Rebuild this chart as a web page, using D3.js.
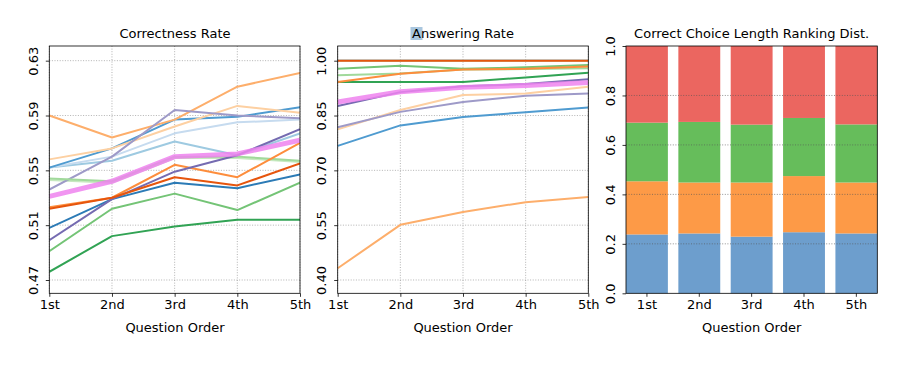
<!DOCTYPE html>
<html>
<head>
<meta charset="utf-8">
<script src="https://cdn.jsdelivr.net/npm/d3@7"></script>
<style>
  body { margin: 0; background: #ffffff; }
  svg { display: block; font-family: "DejaVu Sans", sans-serif; }
</style>
</head>
<body>
<div id="chart"></div>
<script>
// question order categories shared by all three panels
var orders = ["1st", "2nd", "3rd", "4th", "5th"];

// one entry per model: colour, correctness rate and answering rate per question order
var models = ["m01", "m02", "m03", "m04", "m05", "m06", "m07", "m08", "m09", "m10", "m11", "m12", "m13", "m14", "avg"];
var colors = ["#2c7bb6", "#4f9bd0", "#9ecae1", "#c6dbef", "#e6550d", "#fd8d3c", "#fdae6b", "#fdd0a2",
              "#31a354", "#74c476", "#a1d99b", "#c7e9c0", "#756bb1", "#9e9ac8", "#ee82ee"];
var widths = [2, 2, 2, 2, 2, 2, 2, 2, 2, 2, 2, 2, 2, 2, 5];

var correct = [
  [0.508, 0.529, 0.541, 0.537, 0.547],
  [0.552, 0.566, 0.587, 0.589, 0.596],
  [0.552, 0.557, 0.571, 0.561, 0.577],
  [0.552, 0.560, 0.577, 0.585, 0.587],
  [0.522, 0.530, 0.545, 0.539, 0.555],
  [0.523, 0.530, 0.554, 0.545, 0.570],
  [0.590, 0.574, 0.587, 0.611, 0.621],
  [0.558, 0.566, 0.582, 0.597, 0.592],
  [0.476, 0.502, 0.509, 0.514, 0.514],
  [0.491, 0.522, 0.533, 0.521, 0.541],
  [0.544, 0.542, 0.560, 0.560, 0.557],
  [0.543, 0.541, 0.559, 0.559, 0.556],
  [0.499, 0.529, 0.549, 0.561, 0.580],
  [0.536, 0.560, 0.594, 0.590, 0.588],
  [0.531, 0.542, 0.560, 0.562, 0.572]
];

var answer = [
  [1.000, 1.000, 1.000, 1.000, 1.000],
  [0.767, 0.823, 0.846, 0.859, 0.872],
  [1.000, 1.000, 1.000, 1.000, 1.000],
  [1.000, 1.000, 1.000, 1.000, 1.000],
  [1.000, 1.000, 1.000, 1.000, 1.000],
  [0.942, 0.964, 0.976, 0.978, 0.984],
  [0.432, 0.551, 0.586, 0.613, 0.627],
  [0.812, 0.865, 0.906, 0.910, 0.929],
  [0.942, 0.942, 0.942, 0.954, 0.967],
  [0.978, 0.986, 0.978, 0.982, 0.988],
  [0.960, 0.965, 0.976, 0.977, 0.979],
  [1.000, 1.000, 1.000, 1.000, 1.000],
  [0.876, 0.914, 0.930, 0.936, 0.949],
  [0.818, 0.860, 0.887, 0.904, 0.910],
  [0.887, 0.915, 0.927, 0.932, 0.940]
];

// draw order so the overlaps look like the original
var drawOrder = [0, 2, 3, 11, 1, 6, 7, 13, 10, 9, 8, 5, 12, 4, 14];

// correct choice length ranking distribution (stacked shares)
var rankNames = ["rank1", "rank2", "rank3", "rank4"];
var rankColors = ["#6d9ecd", "#fd9a47", "#66bd5b", "#eb6660"];
var rank1 = [0.238, 0.242, 0.229, 0.247, 0.242];
var rank2 = [0.215, 0.206, 0.219, 0.227, 0.206];
var rank3 = [0.237, 0.245, 0.234, 0.235, 0.235];
var rank4 = [0.310, 0.307, 0.318, 0.291, 0.317];

var corrTicks = [0.47, 0.51, 0.55, 0.59, 0.63];
var ansTicks = [0.40, 0.55, 0.70, 0.85, 1.00];
var distTicks = [0.0, 0.2, 0.4, 0.6, 0.8, 1.0];

var W = 924, H = 374;
var plotTop = 46, plotBottom = 293.3;
var FS = 13;

var svg = d3.select("#chart").append("svg")
  .attr("width", W).attr("height", H);

// ### axis helpers
function styleAxis(g) {
  g.attr("font-size", FS).attr("font-family", "DejaVu Sans, sans-serif");
  g.selectAll(".domain").remove();
  g.selectAll(".tick line").attr("stroke", "#000").attr("stroke-width", 0.8);
  g.selectAll(".tick text").attr("fill", "#000");
}

function yAxis(g, x0, y, ticks, fmt) {
  var ax = g.append("g").attr("transform", "translate(" + x0 + ",0)")
    .call(d3.axisLeft(y).tickValues(ticks).tickFormat(fmt).tickSize(3.5).tickPadding(4));
  styleAxis(ax);
  ax.selectAll(".tick text")
    .attr("transform", "rotate(-90)")
    .attr("x", 0).attr("y", -16)
    .attr("dy", "0.35em")
    .attr("text-anchor", "middle");
}

function frame(g, x0, x1) {
  g.append("rect")
    .attr("x", x0).attr("y", plotTop)
    .attr("width", x1 - x0).attr("height", plotBottom - plotTop)
    .attr("fill", "none").attr("stroke", "#000").attr("stroke-width", 0.8);
}

function title(g, cx, txt) {
  g.append("text").attr("x", cx).attr("y", 38)
    .attr("text-anchor", "middle").attr("font-size", FS).text(txt);
}

function xLabel(g, cx) {
  g.append("text").attr("x", cx).attr("y", 332)
    .attr("text-anchor", "middle").attr("font-size", FS).text("Question Order");
}

// ### line panels
function linePanel(x0, x1, values, domain, ticks, fmt, name) {
  var g = svg.append("g");
  var x = d3.scalePoint().domain(orders).range([x0, x1]);
  var y = d3.scaleLinear().domain(domain).range([plotBottom, plotTop]);

  // grid
  g.selectAll(".hgrid").data(ticks).enter().append("line")
    .attr("x1", x0).attr("x2", x1)
    .attr("y1", function(d) { return y(d); }).attr("y2", function(d) { return y(d); })
    .attr("stroke", "#a0a0a0").attr("stroke-width", 0.8).attr("stroke-dasharray", "1,1.6");
  g.selectAll(".vgrid").data(orders).enter().append("line")
    .attr("x1", function(d) { return x(d); }).attr("x2", function(d) { return x(d); })
    .attr("y1", plotTop).attr("y2", plotBottom)
    .attr("stroke", "#a0a0a0").attr("stroke-width", 0.8).attr("stroke-dasharray", "1,1.6");

  var line = d3.line()
    .x(function(d, i) { return x(orders[i]); })
    .y(function(d) { return y(d); });

  g.append("clipPath").attr("id", "clip_" + name)
    .append("rect").attr("x", x0).attr("y", plotTop).attr("width", x1 - x0).attr("height", plotBottom - plotTop);

  g.append("g").attr("clip-path", "url(#clip_" + name + ")")
    .selectAll("path").data(drawOrder).enter().append("path")
    .attr("d", function(k) { return line(values[k]); })
    .attr("fill", "none")
    .attr("stroke", function(k) { return colors[k]; })
    .attr("stroke-width", function(k) { return widths[k]; })
    .attr("stroke-opacity", function(k) { return k === 14 ? 0.85 : 1; })
    .attr("stroke-linejoin", "round");

  frame(g, x0, x1);

  var xa = g.append("g").attr("transform", "translate(0," + plotBottom + ")")
    .call(d3.axisBottom(x).tickSize(3.5).tickPadding(3));
  styleAxis(xa);
  yAxis(g, x0, y, ticks, fmt);
  return g;
}

linePanel(49.3, 300, correct, [0.4603, 0.6407], corrTicks, d3.format(".2f"), "corr");
title(svg, 175, "Correctness Rate");
xLabel(svg, 175);

linePanel(337.7, 588.3, answer, [0.3636, 1.0402], ansTicks, d3.format(".2f"), "ans");
// the highlighted first letter of the title
svg.append("rect").attr("x", 410.5).attr("y", 27).attr("width", 12).attr("height", 13)
  .attr("fill", "#a9c6de");
title(svg, 463, "Answering Rate");
xLabel(svg, 463);

// ### stacked bar panel
(function() {
  var x0 = 626, x1 = 877.3;
  var g = svg.append("g");
  var x = d3.scaleBand().domain(orders).range([x0, x1]).paddingInner(0.2).paddingOuter(0);
  var y = d3.scaleLinear().domain([0, 1]).range([plotBottom, plotTop]);

  var rows = orders.map(function(o, i) {
    return { order: o, rank1: rank1[i], rank2: rank2[i], rank3: rank3[i], rank4: rank4[i] };
  });
  var series = d3.stack().keys(rankNames)(rows);

  g.selectAll(".layer").data(series).enter().append("g")
    .attr("fill", function(d, i) { return rankColors[i]; })
    .selectAll("rect").data(function(d) { return d; }).enter().append("rect")
    .attr("x", function(d) { return x(d.data.order); })
    .attr("width", x.bandwidth())
    .attr("y", function(d) { return y(Math.min(d[1], 1)); })
    .attr("height", function(d) { return y(d[0]) - y(Math.min(d[1], 1)); });

  g.selectAll(".hgrid").data([0.2, 0.4, 0.6, 0.8]).enter().append("line")
    .attr("x1", x0).attr("x2", x1)
    .attr("y1", function(d) { return y(d); }).attr("y2", function(d) { return y(d); })
    .attr("stroke", "#555").attr("stroke-width", 0.8).attr("stroke-dasharray", "1,1.6")
    .attr("stroke-opacity", 0.8);

  frame(g, x0, x1);

  var xa = g.append("g").attr("transform", "translate(0," + plotBottom + ")")
    .call(d3.axisBottom(x).tickSize(3.5).tickPadding(3));
  styleAxis(xa);
  yAxis(g, x0, y, distTicks, d3.format(".1f"));
  title(svg, (x0 + x1) / 2, "Correct Choice Length Ranking Dist.");
  xLabel(svg, (x0 + x1) / 2);
})();
</script>
</body>
</html>
